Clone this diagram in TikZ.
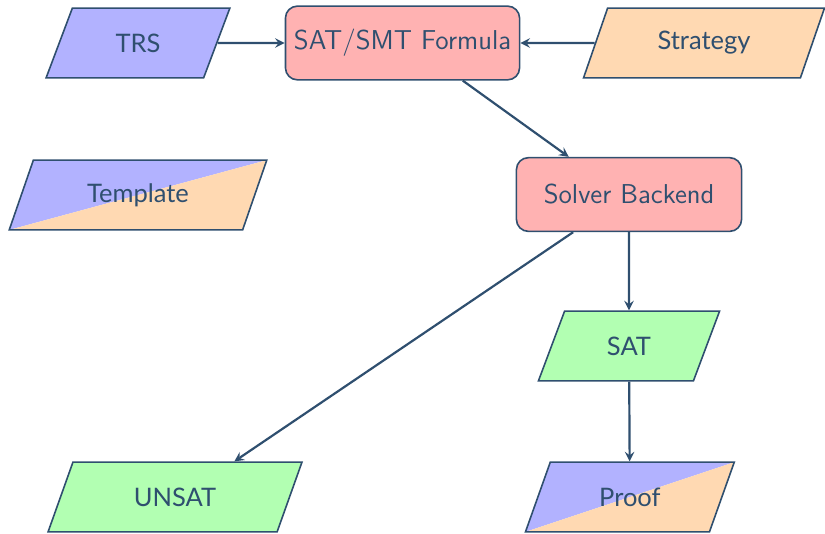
\documentclass[tikz,border=0pt]{standalone}
\usepackage{fontspec}
\newfontfamily\latofont{Lato}
\usetikzlibrary{shapes.geometric}

\definecolor{linecol}{HTML}{2F4F6F}

\tikzset{
    proc/.style={draw=linecol, thick, rounded corners=6pt, fill=red!30,
        minimum height=37pt, text=linecol,
        font=\fontsize{13.7}{16}\selectfont\sffamily},
    io/.style={draw=linecol, thick, trapezium, trapezium left angle=70,
        trapezium right angle=110, trapezium stretches=true,
        minimum height=35pt, text=linecol,
        font=\fontsize{12.8}{15}\selectfont\latofont},
    mixed/.style={io, path picture={
        \fill[blue!30] (path picture bounding box.south west)
            -- (path picture bounding box.north west)
            -- (path picture bounding box.north east) -- cycle;
        \fill[orange!30] (path picture bounding box.south west)
            -- (path picture bounding box.south east)
            -- (path picture bounding box.north east) -- cycle;}},
    flow/.style={draw=linecol, line width=1.1pt, ->, >=stealth}
}

\begin{document}
\begin{tikzpicture}
    \useasboundingbox (0,0) rectangle (14.552,-9.419);

    % inputs and formula
    \node[io, fill=blue!30, minimum width=92.5pt] (trs) at (2.434,-0.758) {TRS};
    \node[proc, minimum width=117.5pt] (formula) at (7.100,-0.758) {SAT/SMT Formula};
    \node[io, fill=orange!30, minimum width=121pt] (strategy) at (12.418,-0.758) {Strategy};

    % template
    \node[mixed, minimum width=130pt] (template) at (2.434,-3.440) {Template};

    % solver and results
    \node[proc, minimum width=113pt] (solver) at (11.095,-3.431) {Solver Backend};
    \node[io, fill=green!30, minimum width=91pt] (sat) at (11.095,-6.103) {SAT};
    \node[io, fill=green!30, minimum width=128pt] (unsat) at (3.087,-8.767) {UNSAT};
    \node[mixed, minimum width=105pt] (proof) at (11.110,-8.767) {Proof};

    % connectors
    \draw[flow] (trs) -- (formula);
    \draw[flow] (strategy) -- (formula);
    \draw[flow] (formula.-32) -- (solver.148);
    \draw[flow] (solver) -- (sat);
    \draw[flow] (solver.-146) -- (unsat.31.5);
    \draw[flow] (sat) -- (proof);
\end{tikzpicture}
\end{document}
